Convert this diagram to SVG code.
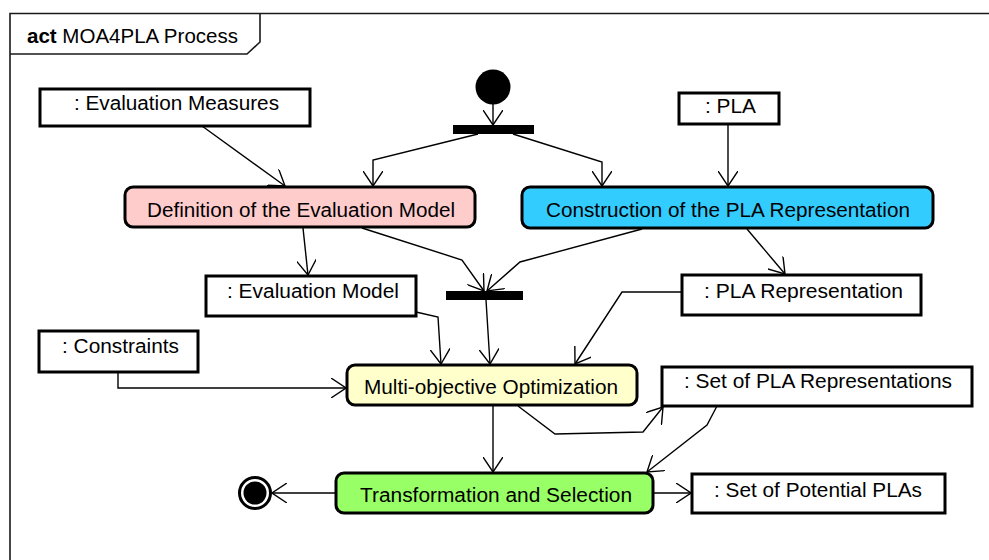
<svg xmlns="http://www.w3.org/2000/svg" width="989" height="560" viewBox="0 0 989 560">
  <style>
    text { font-family: "Liberation Sans", Arial, sans-serif; font-size: 20px; fill: #000; }
    .frame { fill: none; stroke: #1a1a1a; stroke-width: 1.6; }
    .action { stroke: #000; stroke-width: 3; }
    .object { fill: #fff; stroke: #000; stroke-width: 3; }
    .flow { fill: none; stroke: #000; stroke-width: 1.4; marker-end: url(#open); }
  </style>
  <defs>
    <marker id="open" viewBox="0 0 16 20" refX="15" refY="10" markerWidth="16" markerHeight="20" markerUnits="userSpaceOnUse" orient="auto">
      <path d="M0,0 L15,10 L0,20" fill="none" stroke="#000" stroke-width="1.4"/>
    </marker>
  </defs>

  <rect width="989" height="560" fill="#fff"/>

  <!-- activity frame and name tab -->
  <g id="frame">
    <path class="frame" d="M10,560 L10,13.5 L989,13.5"/>
    <path class="frame" d="M10,54 L247,54 L260,42 L260,13.5"/>
    <text x="27" y="43" textLength="211" lengthAdjust="spacingAndGlyphs"><tspan font-weight="bold">act</tspan> MOA4PLA Process</text>
  </g>

  <!-- control flows and object flows -->
  <g id="connectors">
    <path class="flow" d="M493,104 L493,125"/>
    <path class="flow" d="M478,134 L373,160 L373,186"/>
    <path class="flow" d="M513,134 L602,162 L602,186"/>
    <path class="flow" d="M202,126 L285,186"/>
    <path class="flow" d="M728,124 L728,186"/>
    <path class="flow" d="M303,228 L308,275"/>
    <path class="flow" d="M362,228 L462,260 L484,291"/>
    <path class="flow" d="M642,229 L520,262 L487,291"/>
    <path class="flow" d="M747,229 L785,274"/>
    <path class="flow" d="M682,292 L622,292 L575,364"/>
    <path class="flow" d="M416,312 L438,317 L441,364"/>
    <path class="flow" d="M486,300 L490,364"/>
    <path class="flow" d="M118,372 L118,388 L346,388"/>
    <path class="flow" d="M493,406 L493,472"/>
    <path class="flow" d="M518,406 L555,434 L643,432 L663,407"/>
    <path class="flow" d="M717,406 L707,425 L647,472"/>
    <path class="flow" d="M653,493 L691,493"/>
    <path class="flow" d="M336,493 L272,493"/>
  </g>

  <!-- initial node -->
  <g id="initial">
    <circle cx="493" cy="87" r="17.5" fill="#000"/>
  </g>

  <!-- fork and join bars -->
  <g id="fork">
    <rect x="453" y="125" width="81" height="9" fill="#000"/>
  </g>
  <g id="join">
    <rect x="446" y="291" width="77" height="9" fill="#000"/>
  </g>

  <!-- object nodes -->
  <g id="evaluation-measures">
    <rect class="object" x="40" y="89" width="270" height="37"/>
    <text x="74" y="110" textLength="205" lengthAdjust="spacingAndGlyphs">: Evaluation Measures</text>
  </g>
  <g id="pla">
    <rect class="object" x="679" y="93" width="100" height="31"/>
    <text x="705" y="113" textLength="51" lengthAdjust="spacingAndGlyphs">: PLA</text>
  </g>
  <g id="evaluation-model">
    <rect class="object" x="206" y="276" width="210" height="40"/>
    <text x="227" y="298" textLength="172" lengthAdjust="spacingAndGlyphs">: Evaluation Model</text>
  </g>
  <g id="pla-representation">
    <rect class="object" x="682" y="275" width="239" height="40"/>
    <text x="704" y="298" textLength="199" lengthAdjust="spacingAndGlyphs">: PLA Representation</text>
  </g>
  <g id="constraints">
    <rect class="object" x="39" y="331" width="159" height="41"/>
    <text x="62" y="353" textLength="117" lengthAdjust="spacingAndGlyphs">: Constraints</text>
  </g>
  <g id="set-of-pla-representations">
    <rect class="object" x="662" y="367" width="310" height="39"/>
    <text x="684" y="388" textLength="268" lengthAdjust="spacingAndGlyphs">: Set of PLA Representations</text>
  </g>
  <g id="set-of-potential-plas">
    <rect class="object" x="692" y="474" width="253" height="39"/>
    <text x="714" y="497" textLength="208" lengthAdjust="spacingAndGlyphs">: Set of Potential PLAs</text>
  </g>

  <!-- action nodes -->
  <g id="definition-of-evaluation-model">
    <rect class="action" x="125" y="187" width="350" height="40" rx="8" fill="#FFCCCC"/>
    <text x="147" y="217" textLength="308" lengthAdjust="spacingAndGlyphs">Definition of the Evaluation Model</text>
  </g>
  <g id="construction-of-pla-representation">
    <rect class="action" x="522" y="187" width="411" height="41" rx="8" fill="#33CCFF"/>
    <text x="546" y="217" textLength="364" lengthAdjust="spacingAndGlyphs">Construction of the PLA Representation</text>
  </g>
  <g id="multi-objective-optimization">
    <rect class="action" x="347" y="365" width="290" height="40" rx="8" fill="#FFFFCC"/>
    <text x="364" y="394" textLength="254" lengthAdjust="spacingAndGlyphs">Multi-objective Optimization</text>
  </g>
  <g id="transformation-and-selection">
    <rect class="action" x="336" y="473" width="317" height="40" rx="8" fill="#99FF66"/>
    <text x="360" y="502" textLength="272" lengthAdjust="spacingAndGlyphs">Transformation and Selection</text>
  </g>

  <!-- final node -->
  <g id="final">
    <circle cx="255" cy="493" r="15.5" fill="#fff" stroke="#000" stroke-width="3"/>
    <circle cx="255" cy="493" r="11.5" fill="#000"/>
  </g>
</svg>
